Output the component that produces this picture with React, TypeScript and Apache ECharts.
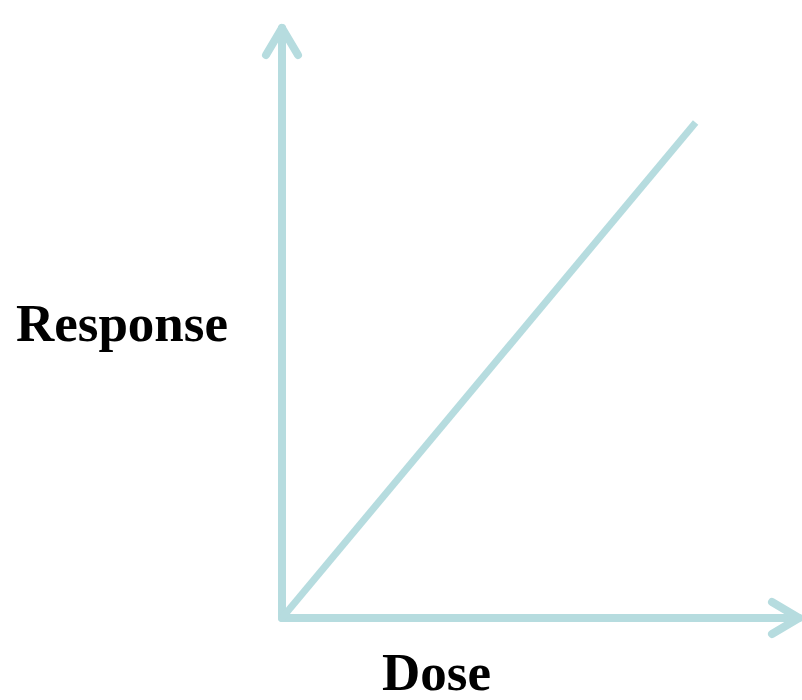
import React, { useEffect, useRef } from "react";
import * as echarts from "echarts";

const dose = [0, 80];
const response = [0, 84];
const axisMax = [100, 100];
const axisNames = ["Dose", "Response"];
const COLOR = "#B6DCDF";

export default function App() {
  const ref = useRef<HTMLDivElement>(null);
  useEffect(() => {
    if (!ref.current) return;
    const chart = echarts.init(ref.current, null, { renderer: "svg" });
    const nameStyle = {
      fontFamily: "'Liberation Serif', 'Times New Roman', serif",
      fontWeight: "bold" as const,
      fontSize: 53,
      color: "#000",
    };
    chart.setOption({
      animation: false,
      grid: {
        left: 282,
        right: 3,
        top: 28,
        bottom: 82,
        containLabel: false,
        outerBoundsMode: "none",
      },
      xAxis: {
        type: "value",
        min: 0,
        max: axisMax[0],
        name: axisNames[0],
        nameLocation: "middle",
        nameGap: 31,
        nameTextStyle: { ...nameStyle, lineHeight: 45, padding: [0, 208, 0, 0] },
        axisLine: { show: true, lineStyle: { color: COLOR, width: 8 } },
        axisTick: { show: false },
        axisLabel: { show: false },
        splitLine: { show: false },
      },
      yAxis: {
        type: "value",
        min: 0,
        max: axisMax[1],
        name: axisNames[1],
        nameLocation: "middle",
        nameRotate: 0,
        nameGap: 54,
        nameTextStyle: { ...nameStyle, padding: [18, 0, 0, 0] },
        axisLine: { show: true, lineStyle: { color: COLOR, width: 8 } },
        axisTick: { show: false },
        axisLabel: { show: false },
        splitLine: { show: false },
      },
      series: [
        {
          type: "line",
          data: dose.map((d, i) => [d, response[i]]),
          showSymbol: false,
          symbol: "none",
          lineStyle: { color: COLOR, width: 7, cap: "butt" },
        },
      ],
    });
    const top = chart.convertToPixel({ gridIndex: 0 }, [0, axisMax[1]]) as number[];
    const right = chart.convertToPixel({ gridIndex: 0 }, [axisMax[0], 0]) as number[];
    const along = 27;
    const perp = 16;
    const shape = (pts: number[][]) => ({
      type: "polyline",
      shape: { points: pts },
      style: { stroke: COLOR, lineWidth: 8, fill: null, lineCap: "round", lineJoin: "round" },
      z: 10,
    });
    chart.setOption({
      graphic: [
        shape([
          [top[0] - perp, top[1] + along],
          [top[0], top[1]],
          [top[0] + perp, top[1] + along],
        ]),
        shape([
          [right[0] - along, right[1] - perp],
          [right[0], right[1]],
          [right[0] - along, right[1] + perp],
        ]),
      ],
    });
    return () => chart.dispose();
  }, []);
  return (
    <div
      ref={ref}
      style={{ position: "absolute", left: 0, top: 0, width: 802, height: 700 }}
    />
  );
}
